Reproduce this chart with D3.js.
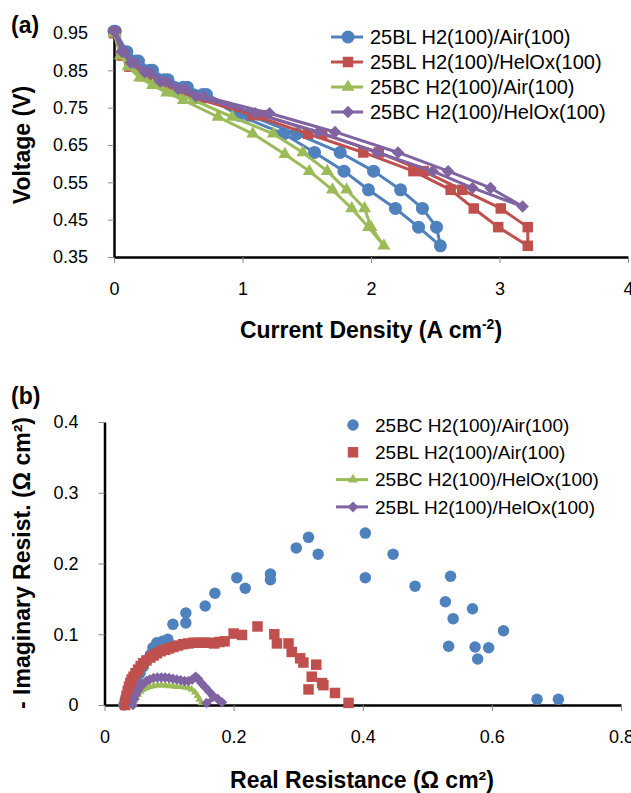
<!DOCTYPE html>
<html>
<head>
<meta charset="utf-8">
<script src="https://cdn.jsdelivr.net/npm/d3@7/dist/d3.min.js"></script>
<style>
  body { margin: 0; background: #fff; }
  svg text { font-family: "Liberation Sans", Arial, sans-serif; fill: #000; }
</style>
</head>
<body>
<div id="vis"></div>
<script>
// ---- panel (a): polarization curves, current (A cm-2) vs voltage (V)
const polNames = ["25BL H2(100)/Air(100)", "25BL H2(100)/HelOx(100)", "25BC H2(100)/Air(100)", "25BC H2(100)/HelOx(100)"];

const blAirI = [0.00, 0.08, 0.17, 0.28, 0.39, 0.54, 0.69, 0.97, 1.32, 1.56, 1.79, 1.98, 2.19, 2.37, 2.54, 2.51, 2.40, 2.23, 2.02, 1.76, 1.42, 1.05, 0.72, 0.57, 0.42, 0.30, 0.19, 0.10, 0.01];
const blAirV = [0.955, 0.90, 0.875, 0.85, 0.825, 0.805, 0.785, 0.73, 0.68, 0.63, 0.58, 0.53, 0.48, 0.43, 0.38, 0.43, 0.48, 0.53, 0.58, 0.63, 0.68, 0.73, 0.785, 0.805, 0.825, 0.85, 0.875, 0.90, 0.955];

const blHelI = [0.00, 0.06, 0.12, 0.22, 0.34, 0.48, 0.64, 1.08, 1.51, 1.94, 2.33, 2.62, 2.80, 2.99, 3.22, 3.22, 3.01, 2.71, 2.41, 2.06, 1.62, 1.15, 0.68, 0.52, 0.38, 0.25, 0.14, 0.07, 0.01];
const blHelV = [0.95, 0.89, 0.86, 0.835, 0.815, 0.795, 0.775, 0.73, 0.68, 0.63, 0.58, 0.53, 0.48, 0.43, 0.38, 0.43, 0.48, 0.53, 0.58, 0.63, 0.68, 0.73, 0.775, 0.795, 0.815, 0.835, 0.86, 0.89, 0.95];

const bcAirI = [0.00, 0.05, 0.11, 0.20, 0.30, 0.41, 0.54, 0.81, 1.08, 1.33, 1.52, 1.70, 1.85, 1.98, 2.10, 2.00, 1.95, 1.81, 1.66, 1.47, 1.24, 0.92, 0.62, 0.47, 0.34, 0.23, 0.13, 0.06, 0.01];
const bcAirV = [0.95, 0.89, 0.86, 0.83, 0.81, 0.79, 0.77, 0.725, 0.68, 0.625, 0.58, 0.53, 0.48, 0.43, 0.38, 0.43, 0.48, 0.53, 0.58, 0.63, 0.68, 0.725, 0.77, 0.79, 0.81, 0.83, 0.86, 0.89, 0.95];

const bcHelI = [0.00, 0.06, 0.13, 0.24, 0.36, 0.50, 0.64, 1.10, 1.59, 2.05, 2.48, 2.79, 3.18, 2.93, 2.60, 2.21, 1.72, 1.21, 0.70, 0.55, 0.41, 0.28, 0.16, 0.08, 0.01];
const bcHelV = [0.955, 0.90, 0.87, 0.845, 0.82, 0.80, 0.78, 0.735, 0.685, 0.63, 0.58, 0.535, 0.485, 0.535, 0.58, 0.63, 0.685, 0.735, 0.78, 0.80, 0.82, 0.845, 0.87, 0.90, 0.955];

const polXTicks = [0, 1, 2, 3, 4];
const polYTicks = [0.35, 0.45, 0.55, 0.65, 0.75, 0.85, 0.95];

// ---- panel (b): impedance, real vs -imaginary (ohm cm2)
const eisNames = ["25BC H2(100)/Air(100)", "25BL H2(100)/Air(100)", "25BC H2(100)/HelOx(100)", "25BL H2(100)/HelOx(100)"];

const bcAirRe = [0.030, 0.032, 0.036, 0.040, 0.045, 0.050, 0.055, 0.060, 0.065, 0.071, 0.075, 0.081, 0.090, 0.098, 0.106, 0.126, 0.126, 0.156, 0.171, 0.205, 0.218, 0.257, 0.257, 0.297, 0.316, 0.331, 0.404, 0.404, 0.447, 0.481, 0.528, 0.536, 0.533, 0.540, 0.570, 0.574, 0.578, 0.595, 0.618, 0.670, 0.703];
const bcAirIm = [0.000, 0.007, 0.012, 0.017, 0.026, 0.035, 0.045, 0.054, 0.063, 0.071, 0.081, 0.088, 0.090, 0.093, 0.114, 0.116, 0.130, 0.140, 0.158, 0.180, 0.165, 0.177, 0.185, 0.222, 0.237, 0.213, 0.243, 0.180, 0.213, 0.168, 0.146, 0.182, 0.083, 0.122, 0.136, 0.082, 0.065, 0.081, 0.105, 0.008, 0.008];

const blAirRe = [0.032, 0.033, 0.034, 0.036, 0.038, 0.040, 0.042, 0.045, 0.048, 0.052, 0.056, 0.060, 0.065, 0.071, 0.076, 0.081, 0.087, 0.094, 0.100, 0.107, 0.114, 0.122, 0.130, 0.138, 0.146, 0.154, 0.162, 0.170, 0.178, 0.186, 0.200, 0.213, 0.237, 0.263, 0.267, 0.285, 0.290, 0.303, 0.308, 0.328, 0.321, 0.337, 0.316, 0.339, 0.357, 0.378];
const blAirIm = [0.000, 0.007, 0.013, 0.020, 0.026, 0.031, 0.036, 0.040, 0.045, 0.050, 0.055, 0.059, 0.063, 0.067, 0.070, 0.073, 0.076, 0.078, 0.080, 0.082, 0.084, 0.086, 0.087, 0.088, 0.088, 0.088, 0.088, 0.087, 0.089, 0.090, 0.101, 0.099, 0.111, 0.100, 0.087, 0.087, 0.075, 0.066, 0.060, 0.057, 0.040, 0.031, 0.022, 0.028, 0.017, 0.003];

const bcHelRe = [0.044, 0.046, 0.049, 0.052, 0.056, 0.060, 0.065, 0.070, 0.076, 0.082, 0.088, 0.094, 0.100, 0.106, 0.112, 0.118, 0.124, 0.130, 0.135, 0.140, 0.144, 0.147, 0.150];
const bcHelIm = [0.000, 0.006, 0.011, 0.015, 0.019, 0.022, 0.024, 0.026, 0.027, 0.028, 0.028, 0.028, 0.027, 0.027, 0.026, 0.026, 0.025, 0.024, 0.022, 0.018, 0.013, 0.008, 0.003];

const blHelRe = [0.044, 0.046, 0.049, 0.052, 0.056, 0.060, 0.065, 0.070, 0.076, 0.082, 0.088, 0.094, 0.100, 0.106, 0.112, 0.118, 0.124, 0.130, 0.136, 0.141, 0.145, 0.150, 0.156, 0.162, 0.168, 0.158, 0.175, 0.182];
const blHelIm = [0.000, 0.008, 0.015, 0.021, 0.026, 0.030, 0.034, 0.036, 0.038, 0.039, 0.039, 0.039, 0.038, 0.037, 0.036, 0.035, 0.034, 0.034, 0.036, 0.040, 0.037, 0.031, 0.025, 0.019, 0.013, 0.003, 0.009, 0.004];

const eisXTicks = [0, 0.2, 0.4, 0.6, 0.8];
const eisYTicks = [0, 0.1, 0.2, 0.3, 0.4];

const colors = ["#4F81BD", "#C0504D", "#9BBB59", "#8064A2"];

const width = 631, height = 793;

const svg = d3.select("#vis").append("svg")
  .attr("width", width)
  .attr("height", height);

const zip = (xs, ys) => xs.map((v, i) => [v, ys[i]]);

// marker shapes, excel style
function markerPath(kind, s) {
  if (kind === "circle") return d3.symbol(d3.symbolCircle, Math.PI * s * s / 4)();
  if (kind === "square") return d3.symbol(d3.symbolSquare, s * s)();
  if (kind === "triangle") return d3.symbol(d3.symbolTriangle, 0.433 * s * s)();
  // diamond = rotated square, s is the diagonal
  return d3.symbol(d3.symbolSquare, s * s / 2)();
}

function drawAxes(x, y, xTicks, yTicks, xFmt, yFmt) {
  const g = svg.append("g");
  const xa = g.append("g")
    .attr("transform", `translate(0,${y.range()[0]})`)
    .call(d3.axisBottom(x).tickValues(xTicks).tickFormat(xFmt)
      .tickSize(6).tickSizeOuter(0).tickPadding(19));
  const ya = g.append("g")
    .attr("transform", `translate(${x.range()[0]},0)`)
    .call(d3.axisLeft(y).tickValues(yTicks).tickFormat(yFmt)
      .tickSize(6).tickSizeOuter(0).tickPadding(20));
  [xa, ya].forEach(a => {
    a.select(".domain").attr("stroke", "#000").attr("stroke-width", 2.5);
    a.selectAll(".tick line").attr("stroke", "#878787").attr("stroke-width", 1);
    a.selectAll(".tick text").attr("font-size", 18).attr("fill", "#000")
      .style("font-family", "'Liberation Sans', Arial, sans-serif");
  });
}

function drawSeries(x, y, pts, color, kind, size, withLine, lineW) {
  const g = svg.append("g");
  if (withLine) {
    g.append("path")
      .datum(pts)
      .attr("fill", "none")
      .attr("stroke", color)
      .attr("stroke-width", lineW)
      .attr("stroke-linejoin", "round")
      .attr("d", d3.line().x(d => x(d[0])).y(d => y(d[1])));
  }
  const rot = kind === "diamond" ? " rotate(45)" : "";
  g.selectAll("path.m")
    .data(pts)
    .join("path")
    .attr("class", "m")
    .attr("transform", d => `translate(${x(d[0])},${y(d[1])})${rot}`)
    .attr("d", markerPath(kind, size))
    .attr("fill", color);
}

function drawLegend(x0, y0, dy, names, kinds, sizes, lines, fontSize) {
  const g = svg.append("g");
  names.forEach((n, i) => {
    const yy = y0 + i * dy;
    if (lines[i]) {
      g.append("line")
        .attr("x1", x0 - 17).attr("x2", x0 + 15)
        .attr("y1", yy).attr("y2", yy)
        .attr("stroke", colors[i]).attr("stroke-width", 3);
    }
    const rot = kinds[i] === "diamond" ? " rotate(45)" : "";
    g.append("path")
      .attr("transform", `translate(${x0},${yy})${rot}`)
      .attr("d", markerPath(kinds[i], sizes[i]))
      .attr("fill", colors[i]);
    g.append("text")
      .attr("x", x0 + 22)
      .attr("y", yy)
      .attr("dy", "0.35em")
      .attr("font-size", fontSize)
      .text(n);
  });
}

// ================= (a) =================
const xA = d3.scaleLinear().domain([0, 4]).range([114, 628]);
const yA = d3.scaleLinear().domain([0.35, 0.95]).range([257, 33]);

drawAxes(xA, yA, polXTicks, polYTicks, d3.format("d"), d3.format(".2f"));

const polKinds = ["circle", "square", "triangle", "diamond"];
const polSizes = [13, 10.5, 13, 12.5];
const polData = [zip(blAirI, blAirV), zip(blHelI, blHelV), zip(bcAirI, bcAirV), zip(bcHelI, bcHelV)];
polData.forEach((pts, i) => drawSeries(xA, yA, pts, colors[i], polKinds[i], polSizes[i], true, 3));

drawLegend(348, 37, 25, polNames, polKinds, polSizes, [true, true, true, true], 20);

svg.append("text")
  .attr("x", 11).attr("y", 33)
  .attr("font-size", 23).attr("font-weight", "bold")
  .text("(a)");

svg.append("text")
  .attr("transform", "translate(30,145) rotate(-90)")
  .attr("text-anchor", "middle")
  .attr("font-size", 23).attr("font-weight", "bold")
  .text("Voltage (V)");

const xTitleA = svg.append("text")
  .attr("x", 371).attr("y", 338)
  .attr("text-anchor", "middle")
  .attr("font-size", 23).attr("font-weight", "bold");
xTitleA.append("tspan").text("Current Density (A cm");
xTitleA.append("tspan").attr("dy", -9).attr("font-size", 14).text("-2");
xTitleA.append("tspan").attr("dy", 9).text(")");

// ================= (b) =================
const xB = d3.scaleLinear().domain([0, 0.8]).range([104.5, 621]);
const yB = d3.scaleLinear().domain([0, 0.4]).range([705, 422]);

const tickFmtB = d => d === 0 ? "0" : d3.format(".1f")(d);
drawAxes(xB, yB, eisXTicks, eisYTicks, tickFmtB, tickFmtB);

const eisKinds = ["circle", "square", "triangle", "diamond"];
const eisSizes = [11.5, 10.5, 8, 10.5];
const eisLines = [false, false, true, true];
const eisData = [zip(bcAirRe, bcAirIm), zip(blAirRe, blAirIm), zip(bcHelRe, bcHelIm), zip(blHelRe, blHelIm)];
eisData.forEach((pts, i) => drawSeries(xB, yB, pts, colors[i], eisKinds[i], eisSizes[i], eisLines[i], 2.5));

drawLegend(353, 425, 27.3, eisNames, eisKinds, [11.5, 10.5, 10, 11], eisLines, 19);

svg.append("text")
  .attr("x", 11).attr("y", 404)
  .attr("font-size", 23).attr("font-weight", "bold")
  .text("(b)");

svg.append("text")
  .attr("transform", "translate(30,563) rotate(-90)")
  .attr("text-anchor", "middle")
  .attr("font-size", 23).attr("font-weight", "bold")
  .text("- Imaginary Resist. (Ω cm²)");

svg.append("text")
  .attr("x", 362).attr("y", 788)
  .attr("text-anchor", "middle")
  .attr("font-size", 23).attr("font-weight", "bold")
  .text("Real Resistance (Ω cm²)");
</script>
</body>
</html>
